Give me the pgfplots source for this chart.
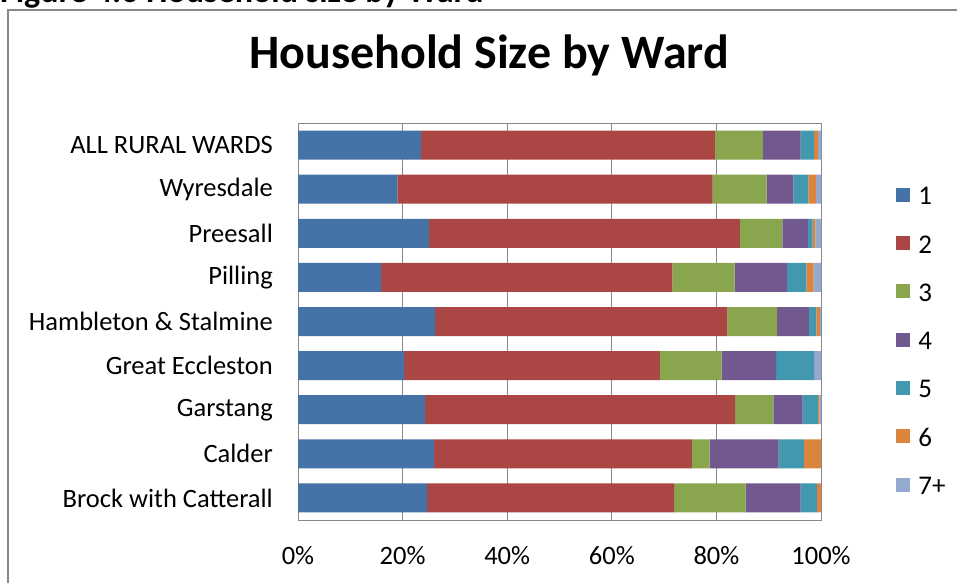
\documentclass[border=0pt]{standalone}
\usepackage{pgfplots}
\pgfplotsset{compat=1.18}
\usepackage{pgfplotstable}
\usepackage{fontspec}
\setmainfont{Carlito}

\definecolor{hs1}{HTML}{4572A7}
\definecolor{hs2}{HTML}{AA4643}
\definecolor{hs3}{HTML}{89A54E}
\definecolor{hs4}{HTML}{71588F}
\definecolor{hs5}{HTML}{4198AF}
\definecolor{hs6}{HTML}{DB843D}
\definecolor{hs7}{HTML}{93A9CF}
\definecolor{frame}{HTML}{888888}

% share of households by size (%), wards from bottom to top
\pgfplotstableread{
idx  s1    s2    s3    s4    s5   s6   s7
0    24.7  47.2  13.7  10.5  3.1  0.8  0.0
1    26.0  49.3  3.4   13.2  4.8  3.3  0.0
2    24.3  59.3  7.3   5.6   2.9  0.3  0.3
3    20.3  48.9  11.8  10.4  7.3  0.0  1.3
4    26.2  55.9  9.5   6.1   1.4  0.7  0.2
5    15.9  55.7  11.9  10.0  3.7  1.4  1.4
6    25.0  59.5  8.1   4.9   0.9  0.5  1.1
7    19.0  60.3  10.3  5.1   2.9  1.4  1.0
8    23.5  56.2  9.2   7.2   2.6  0.7  0.6
}\wards

\begin{document}
\begin{tikzpicture}
\path[use as bounding box] (0pt,0pt) rectangle (957pt,583pt);
\begin{scope}
  \clip (0pt,0pt) rectangle (957pt,583pt);
  \node[anchor=base west, inner sep=0, font=\bfseries\fontsize{34}{38}\selectfont]
    at (0pt,580.5pt) {Figure 4.6 Household size by Ward};
\end{scope}
\draw[frame, line width=1.2pt] (8pt,0pt) -- (8pt,573pt) -- (960pt,573pt);
\node[anchor=base, inner sep=0, font=\bfseries\fontsize{48}{56}\selectfont]
  at (489pt,514pt) {Household Size by Ward};

\begin{axis}[
    at={(298pt,63pt)}, anchor=south west,
    scale only axis, width=523pt, height=397pt,
    xbar stacked, bar width=29pt,
    xmin=0, xmax=100, ymin=-0.5, ymax=8.5,
    xtick={0,20,...,100},
    xticklabel={\pgfmathprintnumber{\tick}\%},
    ytick={0,...,8},
    yticklabels={Brock with Catterall,Calder,Garstang,Great Eccleston,
      Hambleton \& Stalmine,Pilling,Preesall,Wyresdale,ALL RURAL WARDS},
    major tick length=0pt,
    /pgf/number format/assume math mode=true,
    ticklabel style={font=\fontsize{26.5}{30}\selectfont},
    yticklabel style={inner sep=0pt, xshift=-25pt},
    xticklabel style={inner sep=0pt, yshift=-26pt},
    xmajorgrids, grid style={frame, line width=1pt},
    axis line style={frame, line width=1pt},
    legend style={draw=none, fill=none, at={(1.138,0.845)}, anchor=north west,
      font=\fontsize{27}{31}\selectfont, row sep=30.3pt,
      nodes={inner sep=0pt, text height=18pt, text depth=0pt},
      /tikz/every odd column/.append style={column sep=8pt}},
    legend cell align=left,
    legend image code/.code={\fill[#1] (0pt,-6pt) rectangle (14pt,8pt);},
  ]
  \addplot[fill=hs1, draw=none] table[x=s1, y=idx] {\wards};
  \addplot[fill=hs2, draw=none] table[x=s2, y=idx] {\wards};
  \addplot[fill=hs3, draw=none] table[x=s3, y=idx] {\wards};
  \addplot[fill=hs4, draw=none] table[x=s4, y=idx] {\wards};
  \addplot[fill=hs5, draw=none] table[x=s5, y=idx] {\wards};
  \addplot[fill=hs6, draw=none] table[x=s6, y=idx] {\wards};
  \addplot[fill=hs7, draw=none] table[x=s7, y=idx] {\wards};
  \legend{1,2,3,4,5,6,7+}
\end{axis}
\end{tikzpicture}
\end{document}
